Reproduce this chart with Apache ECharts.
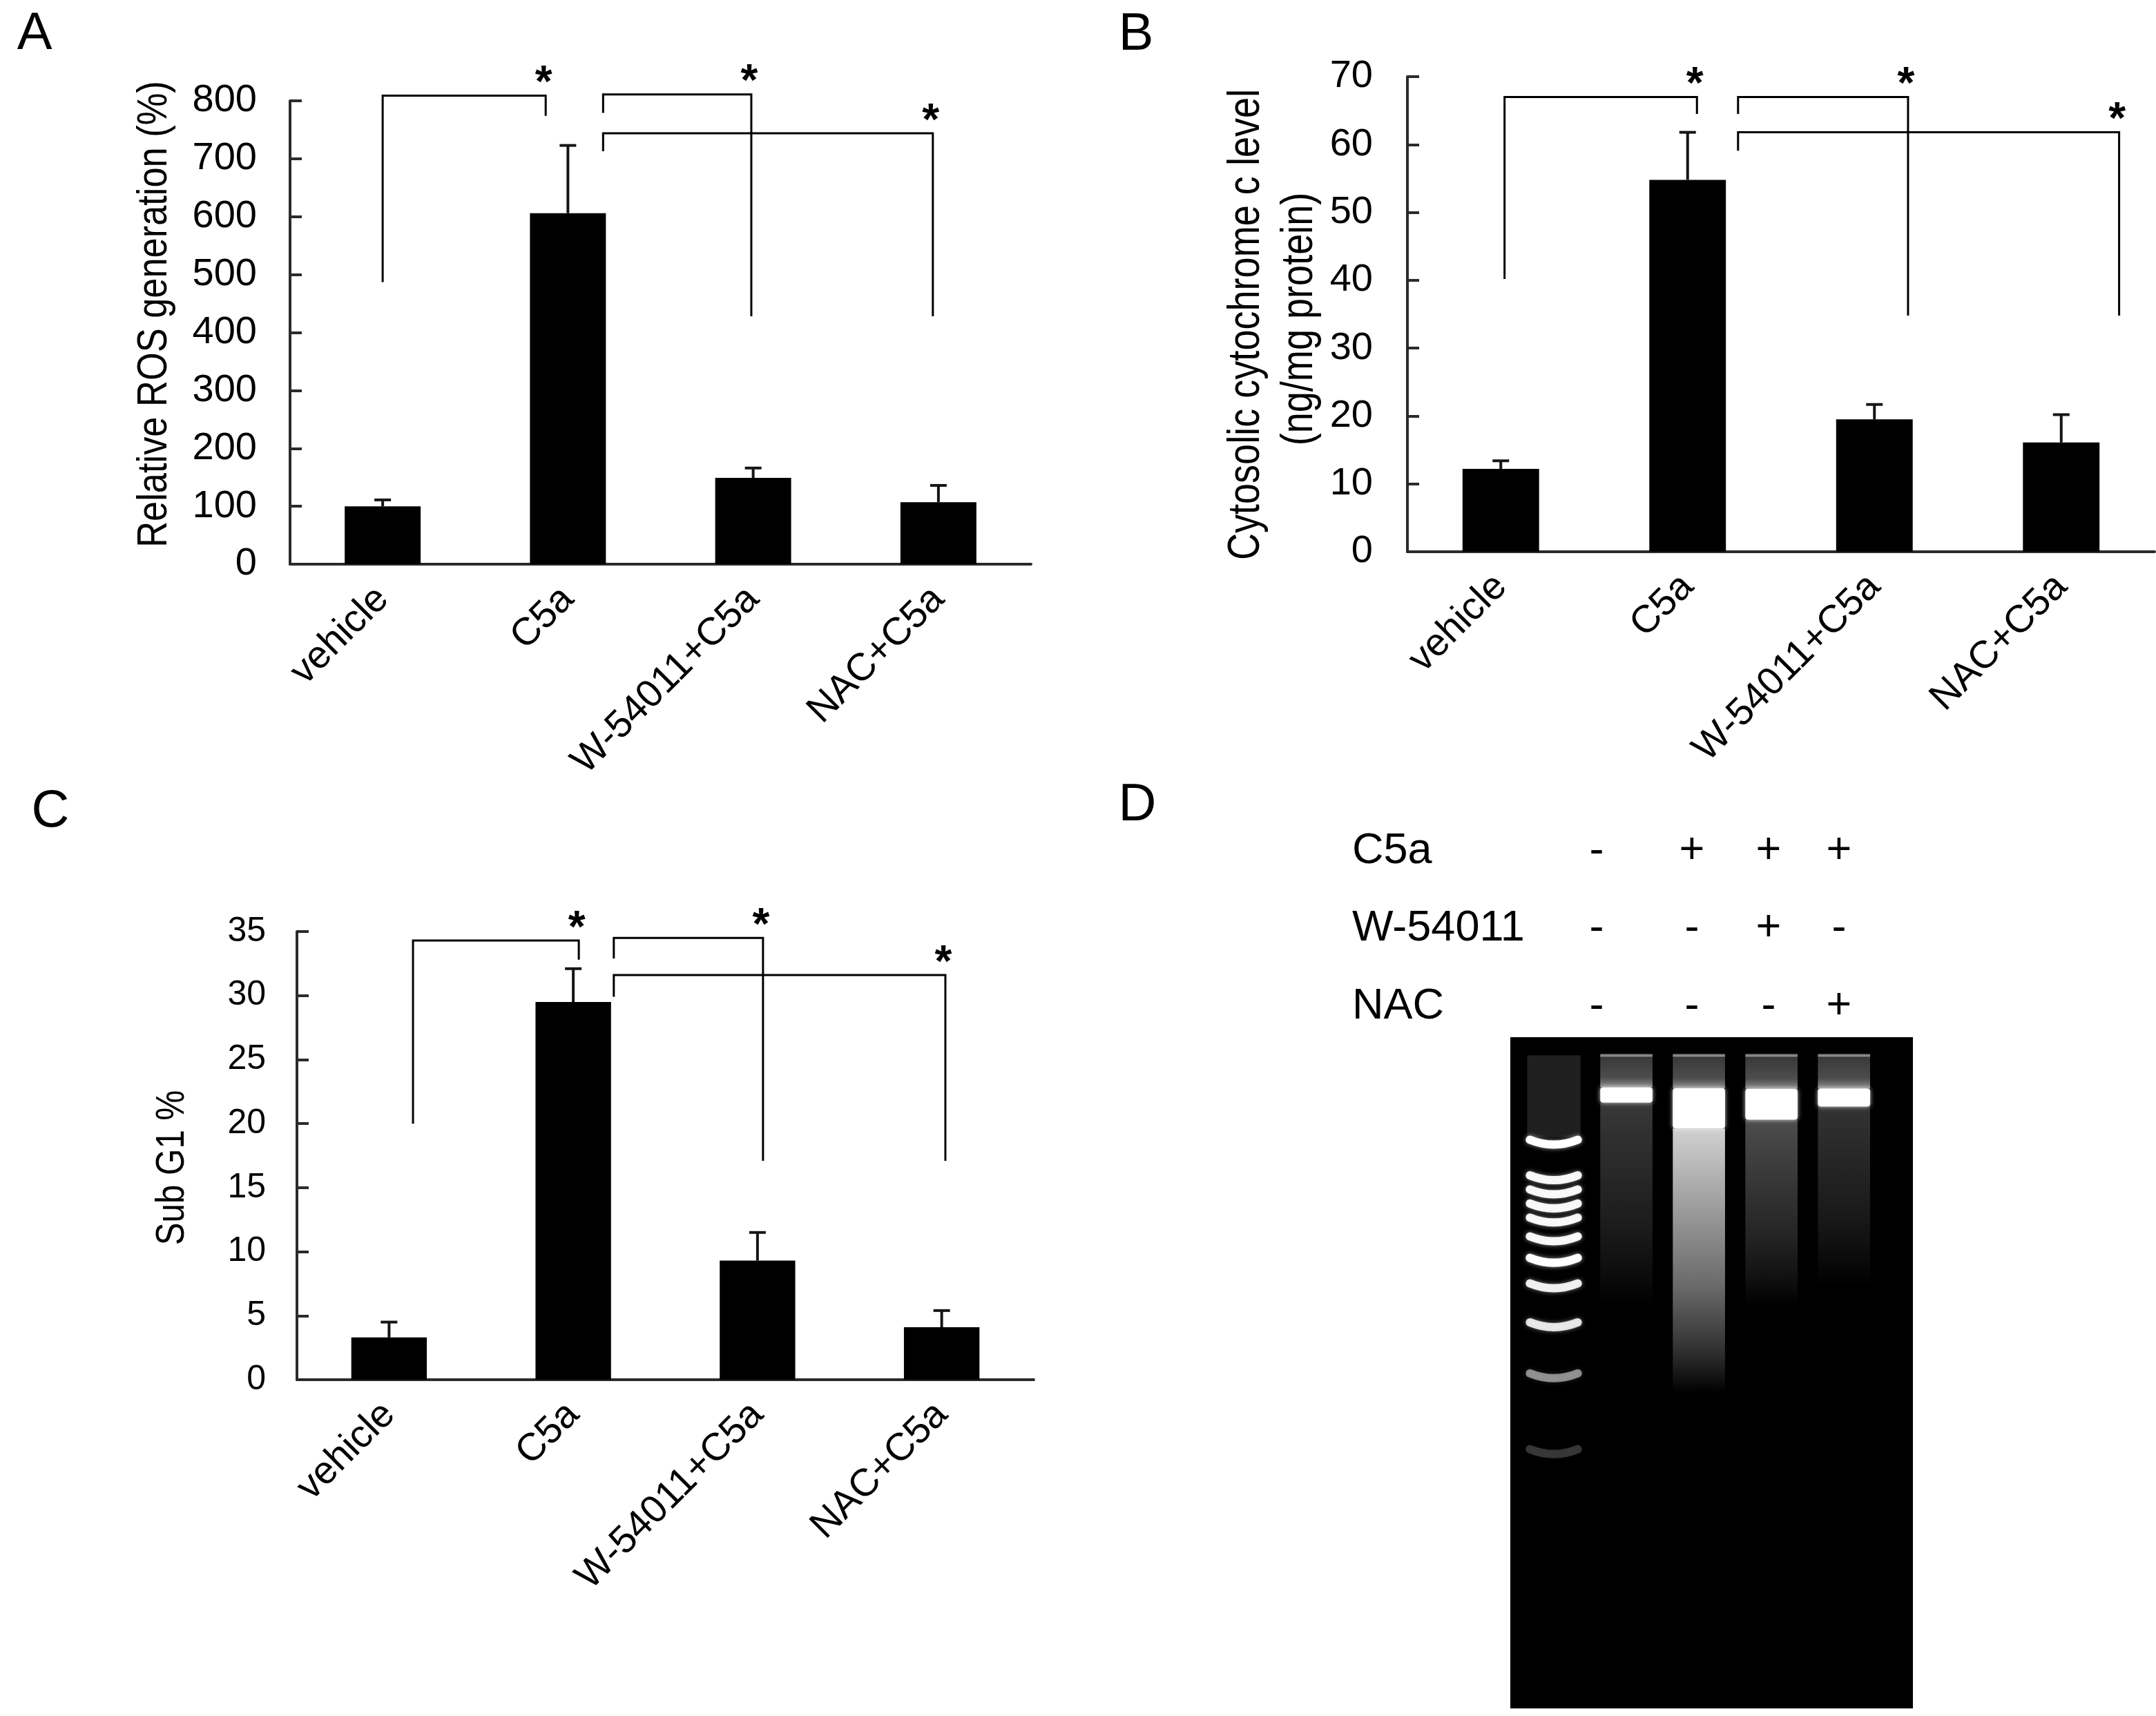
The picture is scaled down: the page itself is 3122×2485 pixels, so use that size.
<!DOCTYPE html>
<html><head><meta charset="utf-8">
<script src="https://cdn.jsdelivr.net/npm/echarts@6.0.0/dist/echarts.min.js"></script>
<style>html,body{margin:0;padding:0;background:#fff}#c{width:3122px;height:2485px}</style>
</head><body><div id="c"></div>
<script>
// ---------- data ----------
const categories = ['vehicle', 'C5a', 'W-54011+C5a', 'NAC+C5a'];

const rosValues = [100, 606, 149, 107];
const rosErrors = [11, 117, 17, 29];
const cytcValues = [12.2, 54.8, 19.5, 16.1];
const cytcErrors = [1.2, 7.0, 2.2, 4.1];
const subG1Values = [3.3, 29.5, 9.3, 4.1];
const subG1Errors = [1.2, 2.6, 2.2, 1.3];

// significance brackets: [left leg (category pos), right leg (category pos), top, left-leg bottom, right-leg bottom]
const rosBrackets = [[0.0, 0.88, 809, 487, 774], [1.19, 1.99, 811, 779, 428], [1.19, 2.97, 744, 713, 428]];
const cytcBrackets = [[0.02, 1.05, 67.0, 40.2, 64.5], [1.27, 2.18, 67.0, 64.5, 34.8], [1.27, 3.31, 61.8, 59.1, 34.8]];
const subG1Brackets = [[0.13, 1.03, 34.3, 20.0, 32.8], [1.22, 2.03, 34.5, 32.9, 17.1], [1.22, 3.02, 31.6, 29.9, 17.1]];

// gel (panel D)
const gelLanes = ['Marker', 'vehicle', 'C5a', 'W-54011+C5a', 'NAC+C5a'];
const treatRows = ['C5a', 'W-54011', 'NAC'];
const treatC5a = ['-', '+', '+', '+'];
const treatW54011 = ['-', '-', '+', '-'];
const treatNAC = ['-', '-', '-', '+'];
// migration (% of gel length)
const ladderPos = [15.9, 21.2, 23.3, 25.4, 27.5, 30.3, 33.5, 37.3, 43.1, 50.7, 62.0];
const ladderInt = [1.0, 0.95, 0.95, 0.95, 0.95, 0.95, 1.0, 0.9, 0.85, 0.5, 0.2];
const hmwBandPos = [8.6, 10.6, 10.0, 9.0];
const hmwBandThick = [2.3, 6.0, 4.6, 2.7];
const smearEnd = [40, 53, 40, 37];
const smearInt = [0.22, 0.82, 0.3, 0.2];
const wellPos = [2.7, 2.7, 2.7, 2.7];

// ---------- helpers ----------
const FONT = 'Liberation Sans, Arial, sans-serif';
const AX = '#2b2b2b';

function errorRender(params, api) {
  const i = api.value(0), v = api.value(1), e = api.value(2);
  const p0 = api.coord([i, v]);
  const p1 = api.coord([i, v + e]);
  const cap = 12;
  return { type: 'group', children: [
    { type: 'line', shape: { x1: p0[0], y1: p0[1], x2: p1[0], y2: p1[1] }, style: { stroke: '#151515', lineWidth: 4 } },
    { type: 'line', shape: { x1: p1[0] - cap, y1: p1[1], x2: p1[0] + cap, y2: p1[1] }, style: { stroke: '#151515', lineWidth: 4 } }
  ]};
}

function bracketRender(brackets) {
  return function (params, api) {
    const b = brackets[params.dataIndex];
    const x0 = api.coord([0, 0])[0];
    const band = api.size([1, 0])[0];
    const xl = x0 + b[0] * band, xr = x0 + b[1] * band;
    const yt = api.coord([0, b[2]])[1];
    const yl = api.coord([0, b[3]])[1];
    const yr = api.coord([0, b[4]])[1];
    return { type: 'group', children: [
      { type: 'polyline', shape: { points: [[xl, yl], [xl, yt], [xr, yt], [xr, yr]] },
        style: { stroke: '#000', lineWidth: 3, fill: null } },
      { type: 'text', x: xr - 3, y: yt - 16,
        style: { text: '*', fontSize: 64, fontWeight: 'bold', fontFamily: FONT, fill: '#000', align: 'center', verticalAlign: 'middle' } }
    ]};
  };
}

function xAxisCfg(gi) {
  return {
    type: 'category', gridIndex: gi, data: categories,
    axisLine: { lineStyle: { color: AX, width: 4 } },
    axisTick: { inside: true, length: 20, lineStyle: { color: AX, width: 4 } },
    axisLabel: { rotate: 45, interval: 0, fontSize: 56, fontFamily: FONT, color: '#000', margin: 42 }
  };
}
function yAxisCfg(gi, max, interval, fs, margin) {
  return {
    type: 'value', gridIndex: gi, min: 0, max: max, interval: interval,
    axisLine: { show: true, lineStyle: { color: AX, width: 4 } },
    axisTick: { show: true, inside: true, length: 17, lineStyle: { color: AX, width: 4 } },
    splitLine: { show: false },
    axisLabel: { fontSize: fs, fontFamily: FONT, color: '#000', margin: margin }
  };
}
function barSeries(gi, vals) {
  return { type: 'bar', xAxisIndex: gi, yAxisIndex: gi, data: vals, barWidth: '41%',
    itemStyle: { color: '#000' }, silent: true, animation: false };
}
function errSeries(gi, vals, errs) {
  return { type: 'custom', xAxisIndex: gi, yAxisIndex: gi, renderItem: errorRender,
    data: vals.map((v, i) => [i, v, errs[i]]), encode: { x: 0, y: 1 }, animation: false, silent: true, z: 5 };
}
function brSeries(gi, brackets) {
  return { type: 'custom', xAxisIndex: gi, yAxisIndex: gi, renderItem: bracketRender(brackets),
    data: brackets.map(b => [0, b[2]]), encode: { x: 0, y: 1 }, animation: false, silent: true, z: 6, clip: false };
}

// gel renderers
function ladderRender(params, api) {
  const p = api.coord([api.value(0), api.value(1)]);
  const a = api.value(2);
  const w = api.size([0.66, 0])[0];
  const xl = p[0] - w / 2, xr = p[0] + w / 2;
  const items = [];
  if (params.dataIndex === 0) {
    const yTop = api.coord([0, wellPos[0]])[1];
    items.push({ type: 'rect', shape: { x: xl - 4, y: yTop, width: w + 8, height: p[1] - yTop - 10 },
      style: { fill: 'rgba(255,255,255,0.12)' } });
  }
  items.push({ type: 'bezierCurve',
    shape: { x1: xl, y1: p[1] - 6, x2: xr, y2: p[1] - 6, cpx1: p[0], cpy1: p[1] + 8 },
    style: { stroke: 'rgba(255,255,255,' + a + ')', lineWidth: 12, lineCap: 'round', fill: null,
             shadowBlur: 6, shadowColor: 'rgba(255,255,255,' + (a * 0.6) + ')' } });
  return { type: 'group', children: items };
}
function laneRender(params, api) {
  const k = params.dataIndex;
  const lane = api.value(0);
  const cx = api.coord([lane, 0])[0];
  const w = api.size([0.72, 0])[0];
  const yBand = api.coord([lane, hmwBandPos[k]])[1];
  const th = api.size([0, hmwBandThick[k]])[1];
  const yEnd = api.coord([lane, smearEnd[k]])[1];
  const yWell = api.coord([lane, wellPos[k]])[1];
  const s = smearInt[k];
  const grad = new echarts.graphic.LinearGradient(0, 0, 0, 1, [
    { offset: 0, color: 'rgba(255,255,255,' + s + ')' },
    { offset: 0.3, color: 'rgba(255,255,255,' + (s * 0.75) + ')' },
    { offset: 0.6, color: 'rgba(255,255,255,' + (s * 0.5) + ')' },
    { offset: 0.85, color: 'rgba(255,255,255,' + (s * 0.22) + ')' },
    { offset: 1, color: 'rgba(255,255,255,0)' }
  ]);
  const glow = new echarts.graphic.LinearGradient(0, 0, 0, 1, [
    { offset: 0, color: 'rgba(255,255,255,0.22)' },
    { offset: 0.7, color: 'rgba(255,255,255,0.3)' },
    { offset: 1, color: 'rgba(255,255,255,0.55)' }
  ]);
  return { type: 'group', children: [
    { type: 'rect', shape: { x: cx - w / 2, y: yWell, width: w, height: yBand - th / 2 - yWell }, style: { fill: glow } },
    { type: 'rect', shape: { x: cx - w / 2, y: yWell - 2, width: w, height: 4 }, style: { fill: 'rgba(255,255,255,0.45)' } },
    { type: 'rect', shape: { x: cx - w / 2, y: yBand + th / 2, width: w, height: yEnd - yBand - th / 2 }, style: { fill: grad } },
    { type: 'rect', shape: { x: cx - w / 2, y: yBand - th / 2, width: w, height: th, r: 4 },
      style: { fill: '#fff', shadowBlur: 6, shadowColor: 'rgba(255,255,255,0.8)' } }
  ]};
}

// ---------- graphic texts ----------
const graphics = [];
function letter(t, x, y) {
  graphics.push({ type: 'text', x: x, y: y, style: { text: t, fontSize: 76, fontFamily: FONT, fill: '#000', align: 'center', verticalAlign: 'middle' } });
}
letter('A', 50, 50); letter('B', 1645, 51); letter('C', 73, 1176); letter('D', 1647, 1167);
function vtitle(t, x, y, fs, sx) {
  graphics.push({ type: 'text', x: x, y: y, rotation: Math.PI / 2, scaleX: sx,
    style: { text: t, fontSize: fs, fontFamily: FONT, fill: '#000', align: 'center', verticalAlign: 'middle' } });
}
vtitle('Relative ROS generation (%)', 224, 455, 62, 0.845);
vtitle('Cytosolic cytochrome c level', 1805, 470, 64, 0.845);
vtitle('(ng/mg protein)', 1882, 462, 64, 0.845);
vtitle('Sub G1 %', 250, 1691, 58, 0.85);

const rowY = [1233, 1345, 1458];
const colX = [2312, 2450, 2561, 2663];
const treat = [treatC5a, treatW54011, treatNAC];
treatRows.forEach((r, i) => {
  graphics.push({ type: 'text', x: 1958, y: rowY[i], style: { text: r, fontSize: 63, fontFamily: FONT, fill: '#000', align: 'left', verticalAlign: 'middle' } });
  treat[i].forEach((s, j) => {
    graphics.push({ type: 'text', x: colX[j], y: rowY[i], style: { text: s, fontSize: 63, fontFamily: FONT, fill: '#000', align: 'center', verticalAlign: 'middle' } });
  });
});

// ---------- option ----------
const option = {
  animation: false,
  backgroundColor: '#fff',
  grid: [
    { left: 420, top: 146, width: 1073, height: 671 },
    { left: 2038, top: 111, width: 1082, height: 688 },
    { left: 430, top: 1349, width: 1067, height: 649 },
    { left: 2187, top: 1502, width: 583, height: 972, show: true, backgroundColor: '#000', borderWidth: 0 }
  ],
  xAxis: [
    xAxisCfg(0), xAxisCfg(1), xAxisCfg(2),
    { type: 'value', gridIndex: 3, min: -0.6, max: 4.95, show: false }
  ],
  yAxis: [
    yAxisCfg(0, 800, 100, 56, 48),
    yAxisCfg(1, 70, 10, 56, 50),
    yAxisCfg(2, 35, 5, 50, 45),
    { type: 'value', gridIndex: 3, min: 0, max: 100, inverse: true, show: false }
  ],
  series: [
    barSeries(0, rosValues), errSeries(0, rosValues, rosErrors), brSeries(0, rosBrackets),
    barSeries(1, cytcValues), errSeries(1, cytcValues, cytcErrors), brSeries(1, cytcBrackets),
    barSeries(2, subG1Values), errSeries(2, subG1Values, subG1Errors), brSeries(2, subG1Brackets),
    { type: 'custom', name: gelLanes[0], xAxisIndex: 3, yAxisIndex: 3, renderItem: ladderRender,
      data: ladderPos.map((p, i) => [0, p, ladderInt[i]]), encode: { x: 0, y: 1 }, silent: true },
    { type: 'custom', name: 'samples', xAxisIndex: 3, yAxisIndex: 3, renderItem: laneRender,
      data: gelLanes.slice(1).map((n, i) => [i + 1, hmwBandPos[i]]), encode: { x: 0, y: 1 }, silent: true }
  ],
  graphic: graphics
};
const chart = echarts.init(document.getElementById('c'), null, { renderer: 'canvas' });
chart.setOption(option);
</script>
</body></html>
